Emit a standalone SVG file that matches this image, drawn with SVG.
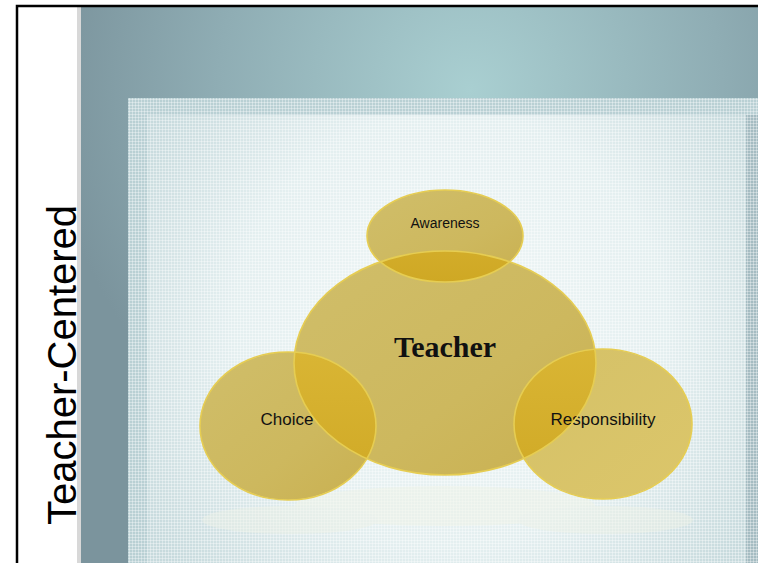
<svg xmlns="http://www.w3.org/2000/svg" width="758" height="563" viewBox="0 0 758 563">
<defs>
<radialGradient id="bg" cx="470" cy="90" r="420" gradientUnits="userSpaceOnUse">
<stop offset="0" stop-color="#a9cfd1"/>
<stop offset="0.6" stop-color="#8fadb4"/>
<stop offset="1" stop-color="#7b949d"/>
</radialGradient>
<radialGradient id="inner" cx="450" cy="330" r="360" gradientUnits="userSpaceOnUse">
<stop offset="0" stop-color="#f1f7f7"/>
<stop offset="0.6" stop-color="#e4eff0"/>
<stop offset="1" stop-color="#c7dadd"/>
</radialGradient>
<pattern id="grid" width="3" height="3" patternUnits="userSpaceOnUse">
<rect x="0" y="0" width="3" height="1" fill="#ffffff" opacity="0.35"/>
<rect x="0" y="0" width="1" height="3" fill="#ffffff" opacity="0.35"/>
</pattern>
<linearGradient id="gold" x1="0" y1="0" x2="1" y2="1">
<stop offset="0" stop-color="#d0be6a"/>
<stop offset="0.6" stop-color="#cdb85e"/>
<stop offset="1" stop-color="#c9b050"/>
</linearGradient>
<linearGradient id="goldR" x1="0" y1="0" x2="1" y2="1">
<stop offset="0" stop-color="#d4c168"/>
<stop offset="1" stop-color="#dcc66a"/>
</linearGradient>
<linearGradient id="ovl" x1="0" y1="0" x2="0" y2="1">
<stop offset="0" stop-color="#d9b534"/>
<stop offset="1" stop-color="#cfa824"/>
</linearGradient>
<clipPath id="cT"><ellipse cx="445" cy="363" rx="151" ry="112"/></clipPath>
<style>
.rim{fill:none;stroke:#e6cd52;stroke-width:1.6}
.lbl{font-family:"Liberation Sans",Arial,sans-serif;fill:#111;text-anchor:middle}
</style>
</defs>

<rect x="0" y="0" width="758" height="563" fill="#ffffff"/>
<rect x="77" y="7" width="6" height="556" fill="#d8d8d8"/>
<rect x="81" y="7" width="677" height="556" fill="url(#bg)"/>
<rect x="128" y="98" width="630" height="465" fill="#b9d0d4"/>
<rect x="147" y="115" width="599" height="448" fill="url(#inner)"/>
<rect x="746" y="115" width="12" height="448" fill="#a5bcc2"/>
<rect x="128" y="98" width="630" height="465" fill="url(#grid)"/>
<path d="M17 563 V6 H758" fill="none" stroke="#000" stroke-width="2.5"/>

<text x="0" y="0" transform="translate(76,365) rotate(-90)" font-family="'Liberation Sans',Arial,sans-serif" font-size="40" fill="#000" text-anchor="middle">Teacher-Centered</text>

<g id="reflection" opacity="0.45">
<ellipse cx="445" cy="506" rx="150" ry="20" fill="#f1f4e6"/>
<ellipse cx="290" cy="520" rx="88" ry="14" fill="#eef2e6"/>
<ellipse cx="605" cy="520" rx="88" ry="14" fill="#eef2e6"/>
</g>

<g id="teacher">
<ellipse cx="445" cy="363" rx="151" ry="112" fill="url(#gold)"/>
</g>
<g id="awareness">
<ellipse cx="445" cy="236" rx="78" ry="46" fill="url(#gold)"/>
<ellipse cx="445" cy="236" rx="78" ry="46" fill="url(#ovl)" clip-path="url(#cT)"/>
<ellipse cx="445" cy="236" rx="78" ry="46" class="rim"/>
<text class="lbl" x="445" y="228" font-size="14">Awareness</text>
</g>
<g id="choice">
<ellipse cx="288" cy="426" rx="88" ry="74" fill="url(#gold)"/>
<ellipse cx="288" cy="426" rx="88" ry="74" fill="url(#ovl)" clip-path="url(#cT)"/>
<ellipse cx="288" cy="426" rx="88" ry="74" class="rim"/>
<text class="lbl" x="287" y="425" font-size="17">Choice</text>
</g>
<g id="responsibility">
<ellipse cx="603" cy="424" rx="89" ry="75" fill="url(#goldR)"/>
<ellipse cx="603" cy="424" rx="89" ry="75" fill="url(#ovl)" clip-path="url(#cT)"/>
<ellipse cx="603" cy="424" rx="89" ry="75" class="rim"/>
<text class="lbl" x="603" y="425" font-size="17">Responsibility</text>
</g>
<g id="teacher-label">
<ellipse cx="445" cy="363" rx="151" ry="112" class="rim"/>
<text x="445" y="357" font-family="'Liberation Serif','Times New Roman',serif" font-size="30" font-weight="bold" fill="#111" text-anchor="middle">Teacher</text>
</g>
</svg>
